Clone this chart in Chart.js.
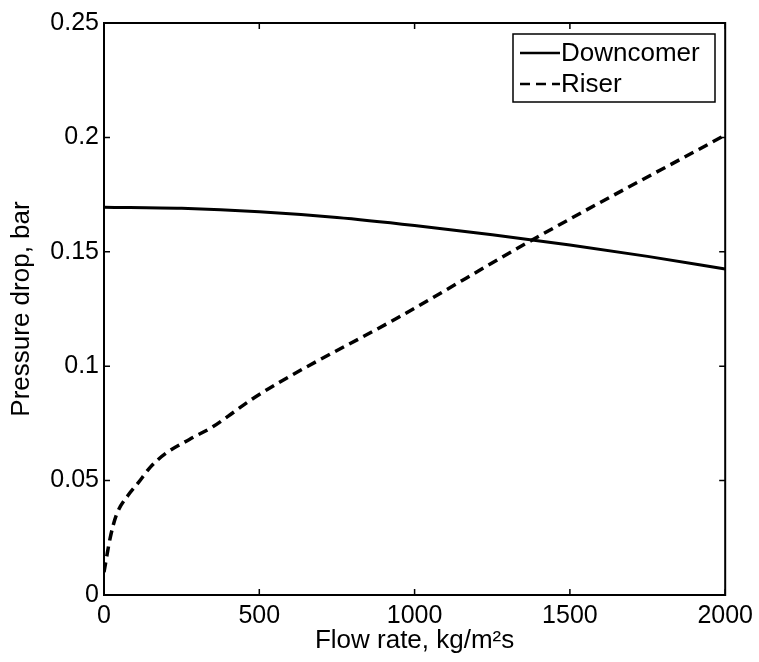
<!DOCTYPE html>
<html>
<head>
<meta charset="utf-8">
<script src="https://cdn.jsdelivr.net/npm/chart.js@4.4.1/dist/chart.umd.min.js"></script>
<style>
  html, body { margin: 0; padding: 0; background: #fff; }
  #wrap { width: 759px; height: 662px; }
</style>
</head>
<body>
<div id="wrap"><canvas id="chart" width="759" height="662"></canvas></div>
<script>
// flow rate (kg/m2s) and pressure drop (bar)
const downcomerX = [0, 250, 500, 750, 1000, 1250, 1500, 1750, 2000];
const downcomerY = [0.1695, 0.1690, 0.1675, 0.1650, 0.1615, 0.1575, 0.1530, 0.1480, 0.1425];

const riserX = [0, 20, 40, 80, 110, 150, 200, 275, 350, 400, 470, 565, 950, 1384, 2000];
const riserY = [0.010, 0.025, 0.035, 0.044, 0.049, 0.056, 0.062, 0.068, 0.0735, 0.0782, 0.0850, 0.093, 0.1215, 0.1556, 0.201];

const xTicks = [0, 500, 1000, 1500, 2000];
const yTicks = [0, 0.05, 0.1, 0.15, 0.2, 0.25];

const FONT = 'Arial, "Liberation Sans", sans-serif';

function toPoints(xs, ys) {
    return xs.map((x, i) => ({ x: x, y: ys[i] }));
}

// box round the plot, inward ticks on all four sides, legend in the top right
const boxPlugin = {
    id: 'box',
    afterDraw(chart) {
        const ctx = chart.ctx;
        const a = chart.chartArea;
        const xs = chart.scales.x;
        const ys = chart.scales.y;
        ctx.save();
        ctx.strokeStyle = '#000';
        ctx.lineWidth = 2;
        ctx.strokeRect(a.left, a.top, a.right - a.left, a.bottom - a.top);
        ctx.lineWidth = 1.5;
        const len = 6;
        xTicks.forEach(v => {
            const px = xs.getPixelForValue(v);
            ctx.beginPath();
            ctx.moveTo(px, a.bottom); ctx.lineTo(px, a.bottom - len);
            ctx.moveTo(px, a.top); ctx.lineTo(px, a.top + len);
            ctx.stroke();
        });
        yTicks.forEach(v => {
            const py = ys.getPixelForValue(v);
            ctx.beginPath();
            ctx.moveTo(a.left, py); ctx.lineTo(a.left + len, py);
            ctx.moveTo(a.right, py); ctx.lineTo(a.right - len, py);
            ctx.stroke();
        });

        // legend
        const lx = 513, ly = 34, lw = 202, lh = 68;
        ctx.fillStyle = '#fff';
        ctx.fillRect(lx, ly, lw, lh);
        ctx.lineWidth = 1.5;
        ctx.strokeRect(lx, ly, lw, lh);
        ctx.font = '26px ' + FONT;
        ctx.textBaseline = 'middle';
        chart.data.datasets.forEach((ds, i) => {
            const y = ly + 19 + i * 31;
            ctx.beginPath();
            ctx.lineWidth = 2.5;
            ctx.setLineDash(ds.borderDash || []);
            ctx.moveTo(lx + 7, y);
            ctx.lineTo(lx + 47, y);
            ctx.stroke();
            ctx.setLineDash([]);
            ctx.fillStyle = '#000';
            ctx.fillText(ds.label, lx + 48, y + 1);
        });
        ctx.restore();
    }
};

new Chart(document.getElementById('chart'), {
    type: 'line',
    data: {
        datasets: [{
            label: 'Downcomer',
            data: toPoints(downcomerX, downcomerY),
            borderColor: '#000',
            borderWidth: 3,
            pointRadius: 0,
            cubicInterpolationMode: 'monotone'
        }, {
            label: 'Riser',
            data: toPoints(riserX, riserY),
            borderColor: '#000',
            borderWidth: 3.5,
            borderDash: [10, 6],
            pointRadius: 0,
            cubicInterpolationMode: 'monotone'
        }]
    },
    options: {
        responsive: false,
        animation: false,
        layout: { padding: { top: 23, right: 32, left: 0, bottom: 0 } },
        plugins: {
            legend: { display: false },
            tooltip: { enabled: false }
        },
        scales: {
            x: {
                type: 'linear',
                min: 0,
                max: 2000,
                afterBuildTicks: s => { s.ticks = xTicks.map(v => ({ value: v })); },
                afterFit: s => { s.height = 67; },
                grid: { display: false, drawTicks: false },
                border: { display: false },
                ticks: {
                    color: '#000',
                    padding: 6,
                    maxRotation: 0,
                    font: { family: FONT, size: 25 },
                    callback: v => String(v)
                },
                title: {
                    display: true,
                    text: 'Flow rate, kg/m²s',
                    color: '#000',
                    padding: { top: 0, bottom: 6 },
                    font: { family: FONT, size: 26 }
                }
            },
            y: {
                min: 0,
                max: 0.25,
                afterBuildTicks: s => { s.ticks = yTicks.map(v => ({ value: v })); },
                afterFit: s => { s.width = 104; },
                grid: { display: false, drawTicks: false },
                border: { display: false },
                ticks: {
                    color: '#000',
                    padding: 5,
                    font: { family: FONT, size: 25 },
                    callback: v => String(+v.toFixed(2))
                },
                title: {
                    display: true,
                    text: 'Pressure drop, bar',
                    color: '#000',
                    padding: { top: 6, bottom: 0 },
                    font: { family: FONT, size: 26 }
                }
            }
        }
    },
    plugins: [boxPlugin]
});
</script>
</body>
</html>
